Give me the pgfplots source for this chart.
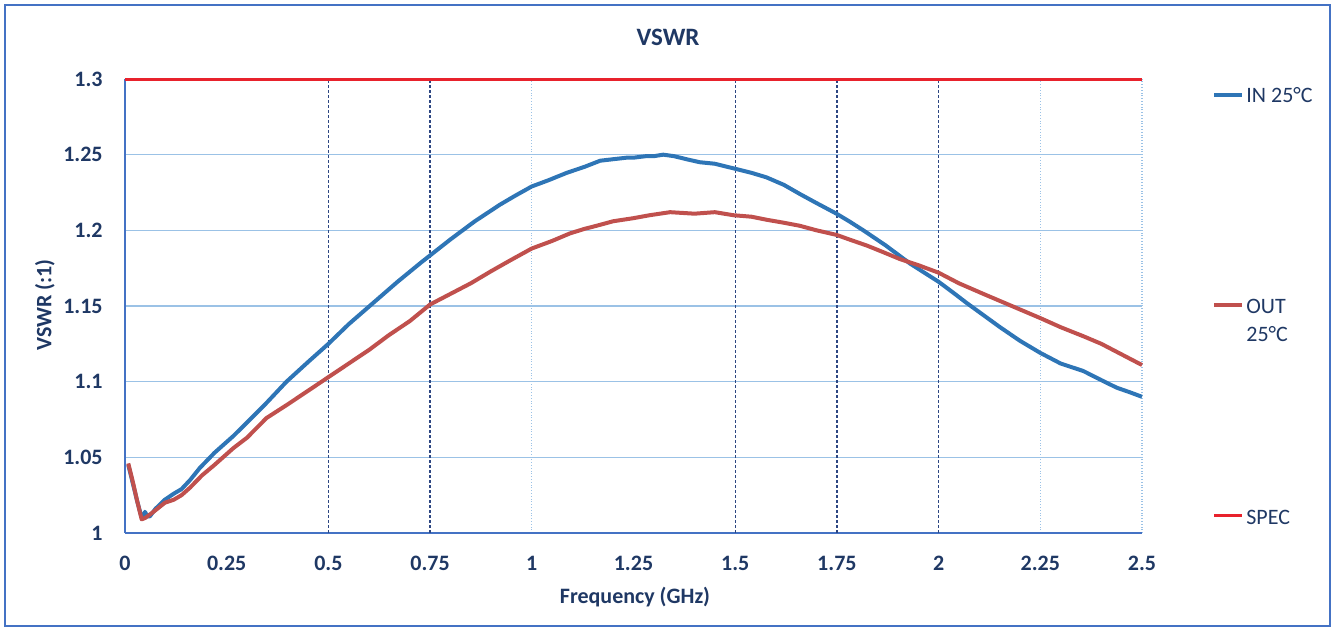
\documentclass[border=0pt]{standalone}
\usepackage{fontspec}
\setmainfont{Carlito}
\usepackage{pgfplots}
\pgfplotsset{compat=1.18}

\definecolor{navy}{RGB}{31,56,100}
\definecolor{inblue}{RGB}{46,117,182}
\definecolor{outred}{RGB}{192,80,77}
\definecolor{specred}{RGB}{232,34,44}
\definecolor{gridblue}{RGB}{155,194,230}
\definecolor{axisblue}{RGB}{68,114,196}
\definecolor{darkgrid}{RGB}{45,70,130}

\newcommand\lent[2]{\begin{tabular}[t]{@{}l@{}}#1\\#2\end{tabular}}

\begin{document}
\begin{tikzpicture}
\begin{axis}[
    scale only axis,
    width=508.5pt, height=227pt,
    xmin=0, xmax=2.5, ymin=1, ymax=1.3,
    axis x line*=bottom, axis y line*=left,
    axis line style={axisblue, line width=0.8pt},
    xtick={0,0.25,0.5,0.75,1,1.25,1.5,1.75,2,2.25,2.5},
    ytick={1,1.05,1.1,1.15,1.2,1.25,1.3},
    major tick length=0pt, minor tick length=0pt,
    /pgf/number format/assume math mode=true,
    tick label style={font=\bfseries\fontsize{11}{13}\selectfont, text=navy},
    yticklabel style={anchor=east, inner sep=0pt, xshift=-11pt},
    xticklabel style={anchor=center, inner sep=0pt, yshift=-15pt},
    ymajorgrids,
    y grid style={gridblue, line width=0.7pt},
    minor xtick={1,2.25,2.5},
    xminorgrids,
    minor grid style={gridblue, densely dotted, line width=0.6pt},
    extra x ticks={0.5,0.75,1.5,1.75,2},
    extra x tick labels={},
    extra x tick style={grid=major, major grid style={darkgrid, dash pattern=on 1.5pt off 1pt, line width=0.7pt}},
    title={VSWR},
    every axis title shift=0pt,
    title style={font=\bfseries\fontsize{12.5}{14}\selectfont, text=navy, at={(0.534,1.0925)}, anchor=center, yshift=0pt},
    xlabel={Frequency (GHz)},
    xlabel style={font=\bfseries\fontsize{11}{13}\selectfont, text=navy, at={(0.5015,-0.141)}, anchor=center},
    ylabel={VSWR (:1)},
    ylabel style={font=\bfseries\fontsize{11}{13}\selectfont, text=navy, at={(-0.0787,0.502)}, anchor=center},
    legend cell align=left,
    legend image code/.code={\draw[#1] (0pt,0pt) -- (14pt,0pt);},
    legend style={at={(1.0688,0.996)}, anchor=north west, draw=none, fill=none,
        inner sep=0pt, row sep=92pt,
        font=\fontsize{11}{14}\selectfont, text=navy,
        nodes={inner sep=1pt}},
    clip=false,
]
% IN 25C
\addplot[inblue, line width=2pt, line join=round] coordinates {
(0.008,1.045) (0.02,1.032) (0.03,1.021) (0.04,1.011) (0.045,1.010) (0.049,1.014)
(0.055,1.011) (0.061,1.011) (0.075,1.016) (0.098,1.022) (0.12,1.026) (0.139,1.029)
(0.16,1.035) (0.184,1.043) (0.22,1.053) (0.266,1.064) (0.30,1.073) (0.348,1.086)
(0.397,1.100) (0.45,1.113) (0.50,1.125) (0.55,1.138) (0.61,1.152) (0.67,1.166)
(0.729,1.179) (0.80,1.194) (0.86,1.206) (0.922,1.217) (0.96,1.223) (1.00,1.229)
(1.04,1.233) (1.086,1.238) (1.13,1.242) (1.168,1.246) (1.20,1.247) (1.233,1.248)
(1.25,1.248) (1.28,1.249) (1.30,1.249) (1.323,1.250) (1.35,1.249) (1.38,1.247)
(1.413,1.245) (1.45,1.244) (1.495,1.241) (1.54,1.238) (1.577,1.235) (1.62,1.230)
(1.659,1.224) (1.70,1.218) (1.749,1.211) (1.78,1.206) (1.815,1.200) (1.87,1.190)
(1.93,1.178) (1.965,1.172) (2.00,1.166) (2.035,1.159) (2.069,1.152) (2.11,1.144)
(2.151,1.136) (2.20,1.127) (2.25,1.119) (2.30,1.112) (2.356,1.107) (2.40,1.101)
(2.438,1.096) (2.47,1.093) (2.50,1.090)
};
\addlegendentry{\lent{IN 25°C}{}}
% OUT 25C
\addplot[outred, line width=2pt, line join=round] coordinates {
(0.008,1.046) (0.02,1.033) (0.03,1.021) (0.041,1.009) (0.05,1.010) (0.07,1.014)
(0.098,1.020) (0.12,1.022) (0.139,1.025) (0.16,1.030) (0.189,1.038) (0.22,1.045)
(0.266,1.056) (0.30,1.063) (0.348,1.076) (0.40,1.085) (0.45,1.094) (0.50,1.103)
(0.55,1.112) (0.60,1.121) (0.65,1.131) (0.70,1.140) (0.75,1.151) (0.80,1.158)
(0.85,1.165) (0.90,1.173) (0.946,1.180) (1.00,1.188) (1.05,1.193) (1.094,1.198)
(1.13,1.201) (1.159,1.203) (1.20,1.206) (1.249,1.208) (1.29,1.210) (1.34,1.212)
(1.40,1.211) (1.45,1.212) (1.495,1.210) (1.54,1.209) (1.577,1.207) (1.62,1.205)
(1.659,1.203) (1.70,1.200) (1.749,1.197) (1.78,1.194) (1.823,1.190) (1.86,1.186)
(1.905,1.181) (1.95,1.177) (2.00,1.172) (2.05,1.165) (2.11,1.158) (2.18,1.150)
(2.25,1.142) (2.30,1.136) (2.356,1.130) (2.40,1.125) (2.45,1.118) (2.50,1.111)
};
\addlegendentry{\lent{OUT}{25°C}}
% SPEC
\addplot[specred, line width=1.5pt] coordinates {(0,1.3) (2.5,1.3)};
\addlegendentry{\lent{SPEC}{}}
\end{axis}
\pgfresetboundingbox
\useasboundingbox (-62.5pt,-49pt) rectangle (604.5pt,266.5pt);
\draw[axisblue, line width=1pt] (-60pt,-46.5pt) rectangle (602.5pt,264pt);
\end{tikzpicture}
\end{document}
